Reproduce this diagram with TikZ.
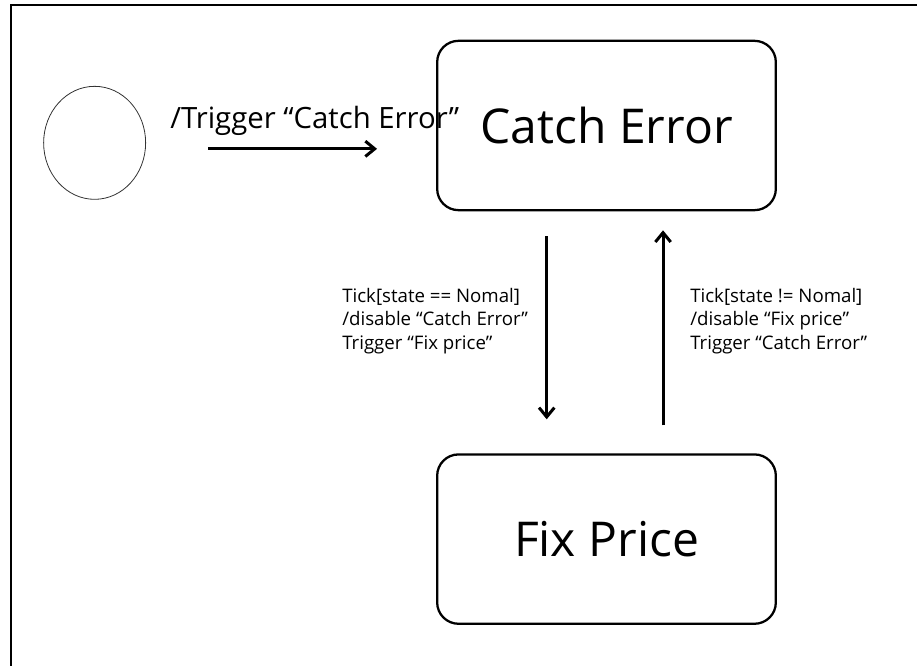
\documentclass[tikz,border=0pt]{standalone}
\usepackage{fontspec}
\setmainfont{Open Sans}
\usetikzlibrary{positioning,arrows.meta,shapes.geometric}

\begin{document}
\begin{tikzpicture}[
    x=0.75pt, y=-0.75pt,  % one unit is one pixel of the sheet, y runs down
    state/.style = {draw, line width=1.7pt, rounded corners=16pt,
                    minimum width=254pt, minimum height=127pt,
                    font=\fontsize{36}{43}\selectfont},
    start/.style = {draw=black!80, line width=0.6pt, ellipse,
                    minimum width=76.5pt, minimum height=84.75pt},
    flow/.style = {line width=2.25pt, -{Straight Barb[length=7pt,width=11.5pt]}},
    guard/.style = {align=left, inner sep=0pt, anchor=west,
                    font=\fontsize{14}{17.5}\selectfont}
  ]
    \useasboundingbox (0,0) rectangle (917,666);
    \draw[line width=1.5pt] (11,666) -- (11,5) -- (917,5);   % sheet edge

    \node[state] (catch) at (606.5,125.5) {Catch Error};
    \node[state] (fix) [below=181.5pt of catch] {Fix Price};
    \node[start] (init) [left=217.5pt of catch, yshift=-13pt] {};   % init sits a bit lower

    \draw[flow] ([xshift=46.5pt,yshift=-4.5pt]init.east) coordinate (t)
      -- ([xshift=-44.25pt]catch.west |- t);
    \node (trig) [anchor=base west, inner sep=0pt, font=\fontsize{22}{26}\selectfont]
      at (170,129) {/Trigger “Catch Error”};

    % down and back up
    \draw[flow] ([xshift=-44.85pt,yshift=-18.75pt]catch.south) -- ([xshift=-44.85pt,yshift=25.5pt]fix.north);
    \draw[flow] ([xshift=42.4pt,yshift=21pt]fix.north) -- ([xshift=42.4pt,yshift=-14.25pt]catch.south);
    \node[guard] (gdown) at (342,321) {Tick[state == Nomal]\\/disable “Catch Error”\\Trigger “Fix price”};
    \node[guard] (gup) at (690,321) {Tick[state != Nomal]\\/disable “Fix price”\\Trigger “Catch Error”};
\end{tikzpicture}
\end{document}
